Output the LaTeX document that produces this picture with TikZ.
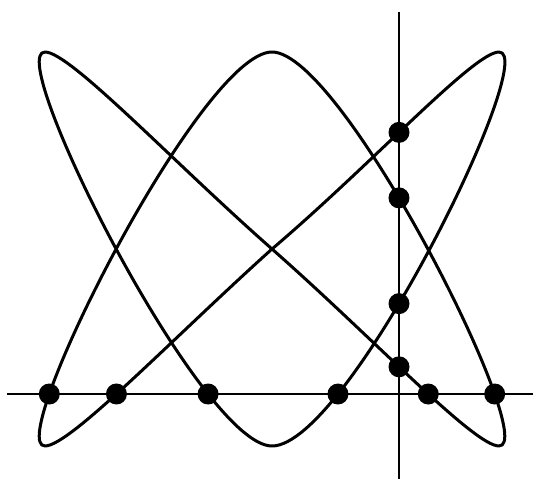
\documentclass[tikz,border=0pt]{standalone}
\usetikzlibrary{intersections}
\begin{document}
\begin{tikzpicture}[x=1pt,y=-1pt,
  curve/.style={line width=3pt, line join=round},
  axisline/.style={line width=1.2pt},
  dotfill/.style={fill=black}]
\fill[white] (0,0) rectangle (536,481);
\useasboundingbox (0,0) rectangle (536,481);
% key points of the curve
\coordinate (TL) at (45,52);
\coordinate (TR) at (499,52);
\coordinate (BL) at (45,446);
\coordinate (BR) at (499,446);
\coordinate (Ht) at (272,52);
\coordinate (Hb) at (272,446);
\coordinate (C)  at (272,249);
% axes
\coordinate (hl) at (7,394);
\coordinate (hr) at (533,394);
\coordinate (vt) at (399,12);
\coordinate (vb) at (399,479);
\draw[axisline, name path=hax] (hl) -- (hr);
\draw[axisline, name path=vax] (vt) -- (vb);
% curve
\draw[curve, name path=curve]
  (TL) .. controls (3,52) and (201,446) .. (Hb)
       .. controls (348,446) and (541,52) .. (TR)
       .. controls (474,52) and (372,164) .. (C)
       .. controls (172,339) and (70,446) .. (BL)
       .. controls (3,446) and (201,52) .. (Ht)
       .. controls (343,52) and (541,446) .. (BR)
       .. controls (474,446) and (372,337) .. (C)
       .. controls (172,161) and (70,52) .. cycle;
% dots at intersections
\fill[dotfill, name intersections={of=curve and hax, name=h, total=\nh}]
  \foreach \k in {1,...,\nh} {(h-\k) circle (10.5pt)};
\fill[dotfill, name intersections={of=curve and vax, name=v, total=\nv}]
  \foreach \k in {1,...,\nv} {(v-\k) circle (10.5pt)};
\end{tikzpicture}
\end{document}
